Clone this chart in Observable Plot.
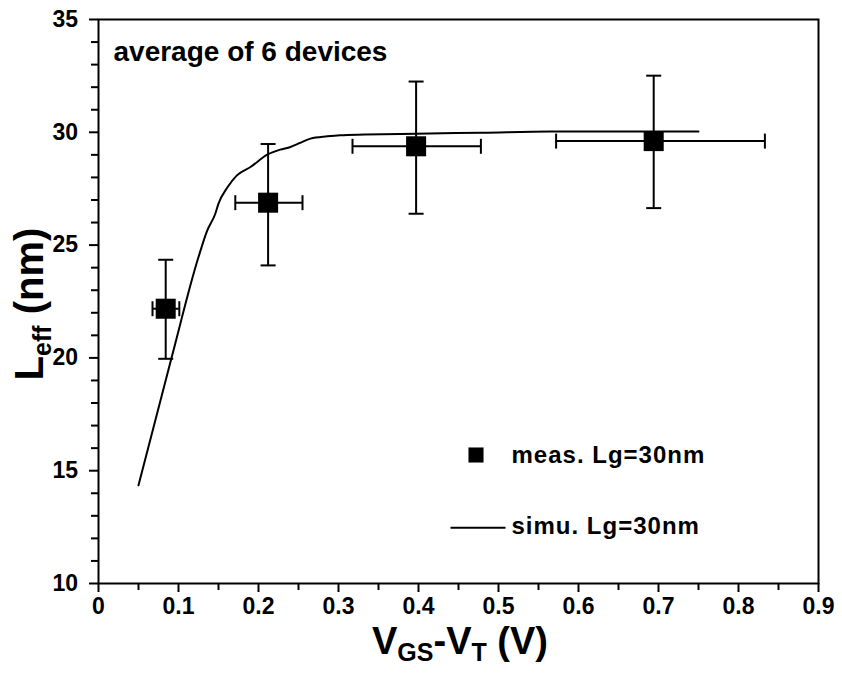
<!DOCTYPE html>
<html><head><meta charset="utf-8">
<script src="https://cdn.jsdelivr.net/npm/d3@7"></script>
<script src="https://cdn.jsdelivr.net/npm/@observablehq/plot@0.6"></script>
<style>
body{margin:0;background:#fff;}
#chart{position:relative;width:842px;height:673px;}
</style></head><body><div id="chart"></div>
<script>
// measured points (meas. Lg=30nm)
const measX = [0.084, 0.212, 0.397, 0.694];
const measY = [22.18, 26.88, 29.38, 29.61];
const measYLow = [19.96, 24.10, 26.39, 26.64];
const measYHigh = [24.35, 29.48, 32.25, 32.51];
const measXLow = [0.0675, 0.171, 0.3175, 0.572];
const measXHigh = [0.101, 0.255, 0.478, 0.833];
// simulation curve (simu. Lg=30nm)
const simX = [0.050, 0.091, 0.125, 0.136, 0.146, 0.150, 0.161, 0.173, 0.190, 0.211, 0.227, 0.240, 0.252, 0.265, 0.286, 0.302, 0.333, 0.397, 0.480, 0.565, 0.650, 0.750];
const simY = [14.35, 19.96, 24.47, 25.65, 26.39, 26.84, 27.55, 28.09, 28.46, 29.01, 29.23, 29.35, 29.53, 29.72, 29.82, 29.87, 29.90, 29.94, 29.98, 30.03, 30.03, 30.03];
// ticks
const xTicks = [0, 0.1, 0.2, 0.3, 0.4, 0.5, 0.6, 0.7, 0.8, 0.9];
const xTickLabels = ["0", "0.1", "0.2", "0.3", "0.4", "0.5", "0.6", "0.7", "0.8", "0.9"];
const xMinorTicks = [0.05, 0.15, 0.25, 0.35, 0.45, 0.55, 0.65, 0.75, 0.85];
const yTicks = [10, 15, 20, 25, 30, 35];
const yTickLabels = ["10", "15", "20", "25", "30", "35"];
const yMinorTicks = [11,12,13,14,16,17,18,19,21,22,23,24,26,27,28,29,31,32,33,34];
// texts
const legendLabels = ["meas. Lg=30nm", "simu. Lg=30nm"];
const annotation = ["average of 6 devices"];

const meas = measX.map((x, i) => ({x, y: measY[i], y1: measYLow[i], y2: measYHigh[i], x1: measXLow[i], x2: measXHigh[i]}));
const sim = simX.map((x, i) => ({x, y: simY[i]}));
const xLab = xTicks.map((v, i) => ({v, t: xTickLabels[i]}));
const yLab = yTicks.map((v, i) => ({v, t: yTickLabels[i]}));

const hCap = {draw(ctx) { ctx.moveTo(-7.5, 0); ctx.lineTo(7.5, 0); }};
const vCap = {draw(ctx) { ctx.moveTo(0, -7.5); ctx.lineTo(0, 7.5); }};
const legendLine = {draw(ctx) { ctx.moveTo(-27.5, 0); ctx.lineTo(27.5, 0); }};

const font = "'Liberation Sans', Arial, Helvetica, sans-serif";

const plot = Plot.plot({
  width: 842, height: 673,
  marginLeft: 98, marginRight: 24, marginTop: 19, marginBottom: 90,
  style: {fontFamily: font, background: "white", color: "black", overflow: "visible"},
  x: {domain: [0, 0.9], label: null},
  y: {domain: [10, 35], label: null},
  marks: [
    Plot.axisY({ticks: yMinorTicks, tickSize: 7, tickFormat: () => "", strokeWidth: 2, label: null}),
    Plot.axisY({ticks: yTicks, tickSize: 9, tickFormat: () => "", strokeWidth: 2, label: null}),
    Plot.axisX({ticks: xMinorTicks, tickSize: 7, tickFormat: () => "", strokeWidth: 2, label: null}),
    Plot.axisX({ticks: xTicks, tickSize: 9, tickFormat: () => "", strokeWidth: 2, label: null}),
    Plot.text(yLab, {y: "v", text: "t", frameAnchor: "left", dx: -20.5, textAnchor: "end", lineAnchor: "middle", fontSize: 23, fontWeight: "bold", fill: "black"}),
    Plot.text(xLab, {x: "v", text: "t", frameAnchor: "bottom", dy: 14, textAnchor: "middle", lineAnchor: "top", fontSize: 23, fontWeight: "bold", fill: "black"}),
    Plot.frame({stroke: "black", strokeWidth: 2}),
    Plot.line(sim, {x: "x", y: "y", stroke: "black", strokeWidth: 2, curve: "monotone-x"}),
    Plot.ruleX(meas, {x: "x", y1: "y1", y2: "y2", stroke: "black", strokeWidth: 2}),
    Plot.ruleY(meas, {y: "y", x1: "x1", x2: "x2", stroke: "black", strokeWidth: 2}),
    Plot.dot(meas, {x: "x", y: "y1", symbol: hCap, fill: "none", stroke: "black", strokeWidth: 2}),
    Plot.dot(meas, {x: "x", y: "y2", symbol: hCap, fill: "none", stroke: "black", strokeWidth: 2}),
    Plot.dot(meas, {x: "x1", y: "y", symbol: vCap, fill: "none", stroke: "black", strokeWidth: 2}),
    Plot.dot(meas, {x: "x2", y: "y", symbol: vCap, fill: "none", stroke: "black", strokeWidth: 2}),
    Plot.dot(meas, {x: "x", y: "y", symbol: "square", r: 11.3, fill: "black", stroke: null}),
    Plot.text(annotation, {text: d => d, frameAnchor: "top-left", dx: 15, dy: 33, textAnchor: "start", lineAnchor: "middle", fontSize: 28, fontWeight: "bold", fill: "black"}),
    // legend
    Plot.dot(legendLabels.slice(0, 1), {frameAnchor: "bottom-left", dx: 377.5, dy: -128.5, symbol: "square", r: 8.5, fill: "black", stroke: null}),
    Plot.dot(legendLabels.slice(1, 2), {frameAnchor: "bottom-left", dx: 379.5, dy: -55.7, symbol: legendLine, fill: "none", stroke: "black", strokeWidth: 2}),
    Plot.text(legendLabels.slice(0, 1), {text: d => d, frameAnchor: "bottom-left", dx: 413, dy: -128.5, textAnchor: "start", lineAnchor: "middle", fontSize: 24, fontWeight: "bold", fill: "black", className: "leg"}),
    Plot.text(legendLabels.slice(1, 2), {text: d => d, frameAnchor: "bottom-left", dx: 413, dy: -57, textAnchor: "start", lineAnchor: "middle", fontSize: 24, fontWeight: "bold", fill: "black", className: "leg"})
  ]
});

document.getElementById("chart").appendChild(plot);
const svg = d3.select(plot);
svg.selectAll(".leg text").style("letter-spacing", "1px");

// x axis title
const xt = svg.append("text")
  .attr("x", 460).attr("y", 654)
  .attr("text-anchor", "middle")
  .attr("font-family", font).attr("font-weight", "bold").attr("font-size", 38).attr("fill", "black");
xt.append("tspan").text("V");
xt.append("tspan").attr("font-size", 25).attr("dy", 7).text("GS");
xt.append("tspan").attr("dy", -7).text("-V");
xt.append("tspan").attr("font-size", 25).attr("dy", 7).text("T");
xt.append("tspan").attr("dy", -7).text(" (V)");

// y axis title
const yt = svg.append("text")
  .attr("transform", "translate(43,304) rotate(-90)")
  .attr("text-anchor", "middle")
  .attr("font-family", font).attr("font-weight", "bold").attr("font-size", 40).attr("fill", "black");
yt.append("tspan").text("L");
yt.append("tspan").attr("font-size", 25).attr("dy", 8).text("eff");
yt.append("tspan").attr("dy", -8).text(" (nm)");
</script>
</body></html>
